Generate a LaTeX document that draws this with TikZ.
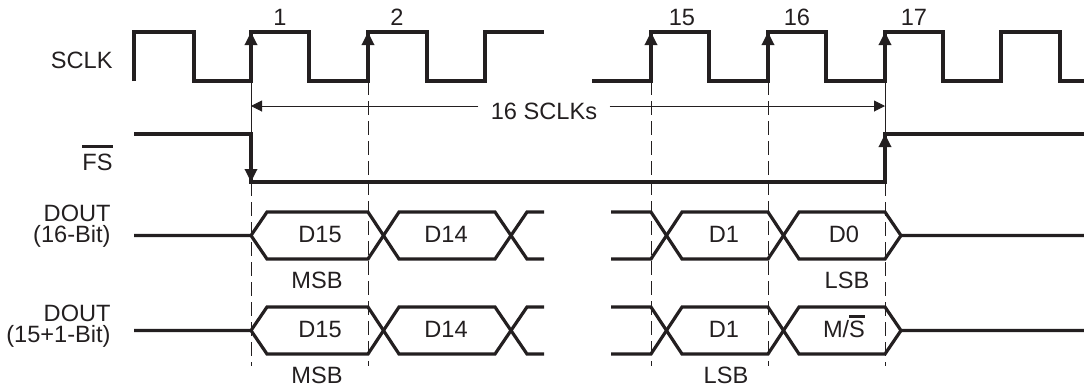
\documentclass[tikz,border=0pt]{standalone}
\usepackage{fontspec}
\setmainfont{Liberation Sans}
\usetikzlibrary{arrows.meta}
\definecolor{TmgInk}{RGB}{35,31,32}
\newcommand{\tmgbar}[2][3pt]{\setbox2\hbox{#2}\rlap{\rule[\dimexpr\ht2+#1\relax]{\wd2}{1.4pt}}\box2}
\tikzset{
  tmg/wave/.style={draw=TmgInk, line width=1.6pt},
  tmg/edge/.style={-{Triangle[length=6.5pt,width=6pt]}, draw=TmgInk, line width=1.6pt},
  tmg/guide/.style={draw=TmgInk, line width=0.5pt, dash pattern=on 7pt off 3pt},
  tmg/marker/.style={draw=TmgInk, line width=0.5pt},
  tmg/dim/.style={-{Triangle[length=5.5pt,width=5.5pt]}, draw=TmgInk, line width=0.5pt},
  tmg/text/.style={font=\fontsize{11.8}{13}\selectfont, text=TmgInk, inner sep=0pt}
}
\begin{document}
\begin{tikzpicture}[x=0.5pt,y=-0.5pt]
  \useasboundingbox (0,0) rectangle (1084,387);
  \coordinate (c1) at (251,106);
  \coordinate (c17) at (885,106);

  % guide lines
  \draw[tmg/marker] (251,81) -- (251,134);
  \draw[tmg/marker] (885,81) -- (885,134);
  \draw[tmg/guide] (251,182) -- (251,366);
  \draw[tmg/guide] (885,182) -- (885,366);
  \foreach \x in {368,651,768}
    \draw[tmg/guide] (\x,81) -- (\x,366);

  % SCLK
  \draw[tmg/wave] (134,81) -- (134,32) -- (194,32) -- (194,81) -- (251,81) -- (251,32) -- (309,32) -- (309,81)
    -- (368,81) -- (368,32) -- (427,32) -- (427,81) -- (485,81) -- (485,32) -- (544,32);
  \draw[tmg/wave] (592,81) -- (651,81) -- (651,32) -- (709,32) -- (709,81) -- (768,81) -- (768,32) -- (826,32)
    -- (826,81) -- (885,81) -- (885,32) -- (943,32) -- (943,81) -- (1001,81) -- (1001,32) -- (1060,32)
    -- (1060,81) -- (1084,81);
  \foreach \x in {251,368,651,768,885}
    \draw[tmg/edge] (\x,81) -- (\x,32);
  \node[tmg/text, anchor=base] (n1) at (280,25) {1};
  \node[tmg/text, anchor=base] (n2) at (397,25) {2};
  \node[tmg/text, anchor=base] (n15) at (682,25) {15};
  \node[tmg/text, anchor=base] (n16) at (797,25) {16};
  \node[tmg/text, anchor=base] (n17) at (914,25) {17};

  % frame length
  \node[tmg/text, anchor=base, inner xsep=6pt] (span) at (544,119.5) {16 SCLKs};
  \draw[tmg/dim] (span.west |- c1) -- (c1);
  \draw[tmg/dim] (span.east |- c17) -- (c17);

  % FS
  \draw[tmg/wave] (134,134) -- (251,134) -- (251,182) -- (885,182) -- (885,134) -- (1084,134);
  \draw[tmg/edge] (251,134) -- (251,182);
  \draw[tmg/edge] (885,182) -- (885,134);

  % DOUT buses
  \foreach \t/\b/\m in {212/259/235.5, 307/354/330.5} {
    \draw[tmg/wave] (134,\m) -- (251,\m) -- (267,\t) -- (368,\t) -- (399,\b) -- (495,\b) -- (527,\t) -- (544,\t);
    \draw[tmg/wave] (251,\m) -- (267,\b) -- (368,\b) -- (399,\t) -- (495,\t) -- (527,\b) -- (544,\b);
    \draw[tmg/wave] (611,\t) -- (651,\t) -- (682,\b) -- (768,\b) -- (799,\t) -- (885,\t) -- (901,\m) -- (1084,\m);
    \draw[tmg/wave] (611,\b) -- (651,\b) -- (682,\t) -- (768,\t) -- (799,\b) -- (885,\b) -- (901,\m);
  }

  % signal names
  \node[tmg/text, anchor=base east] (sclk) at (113,68.5) {SCLK};
  \node[tmg/text, anchor=base east] (fs) at (113,170) {\tmgbar{FS}};
  \node[tmg/text, anchor=base east] (dout16) at (111,221) {DOUT};
  \node[tmg/text, anchor=base east] (bits16) at (111,242.5) {(16-Bit)};
  \node[tmg/text, anchor=base east] (dout15) at (111,321) {DOUT};
  \node[tmg/text, anchor=base east] (bits15) at (111,342.5) {(15+1-Bit)};

  % data words
  \node[tmg/text, anchor=base] (d15a) at (320,242.5) {D15};
  \node[tmg/text, anchor=base] (d14a) at (446,242.5) {D14};
  \node[tmg/text, anchor=base] (d1a) at (724,242.5) {D1};
  \node[tmg/text, anchor=base] (d0a) at (844,242.5) {D0};
  \node[tmg/text, anchor=base] (d15b) at (320,337.5) {D15};
  \node[tmg/text, anchor=base] (d14b) at (446,337.5) {D14};
  \node[tmg/text, anchor=base] (d1b) at (724,337.5) {D1};
  \node[tmg/text, anchor=base] (msb) at (844,337.5) {M/\tmgbar[1.5pt]{S}};
  \node[tmg/text, anchor=base] (msba) at (317,288) {MSB};
  \node[tmg/text, anchor=base] (lsba) at (847,288) {LSB};
  \node[tmg/text, anchor=base] (msbb) at (317,383) {MSB};
  \node[tmg/text, anchor=base] (lsbb) at (726,383) {LSB};
\end{tikzpicture}
\end{document}
